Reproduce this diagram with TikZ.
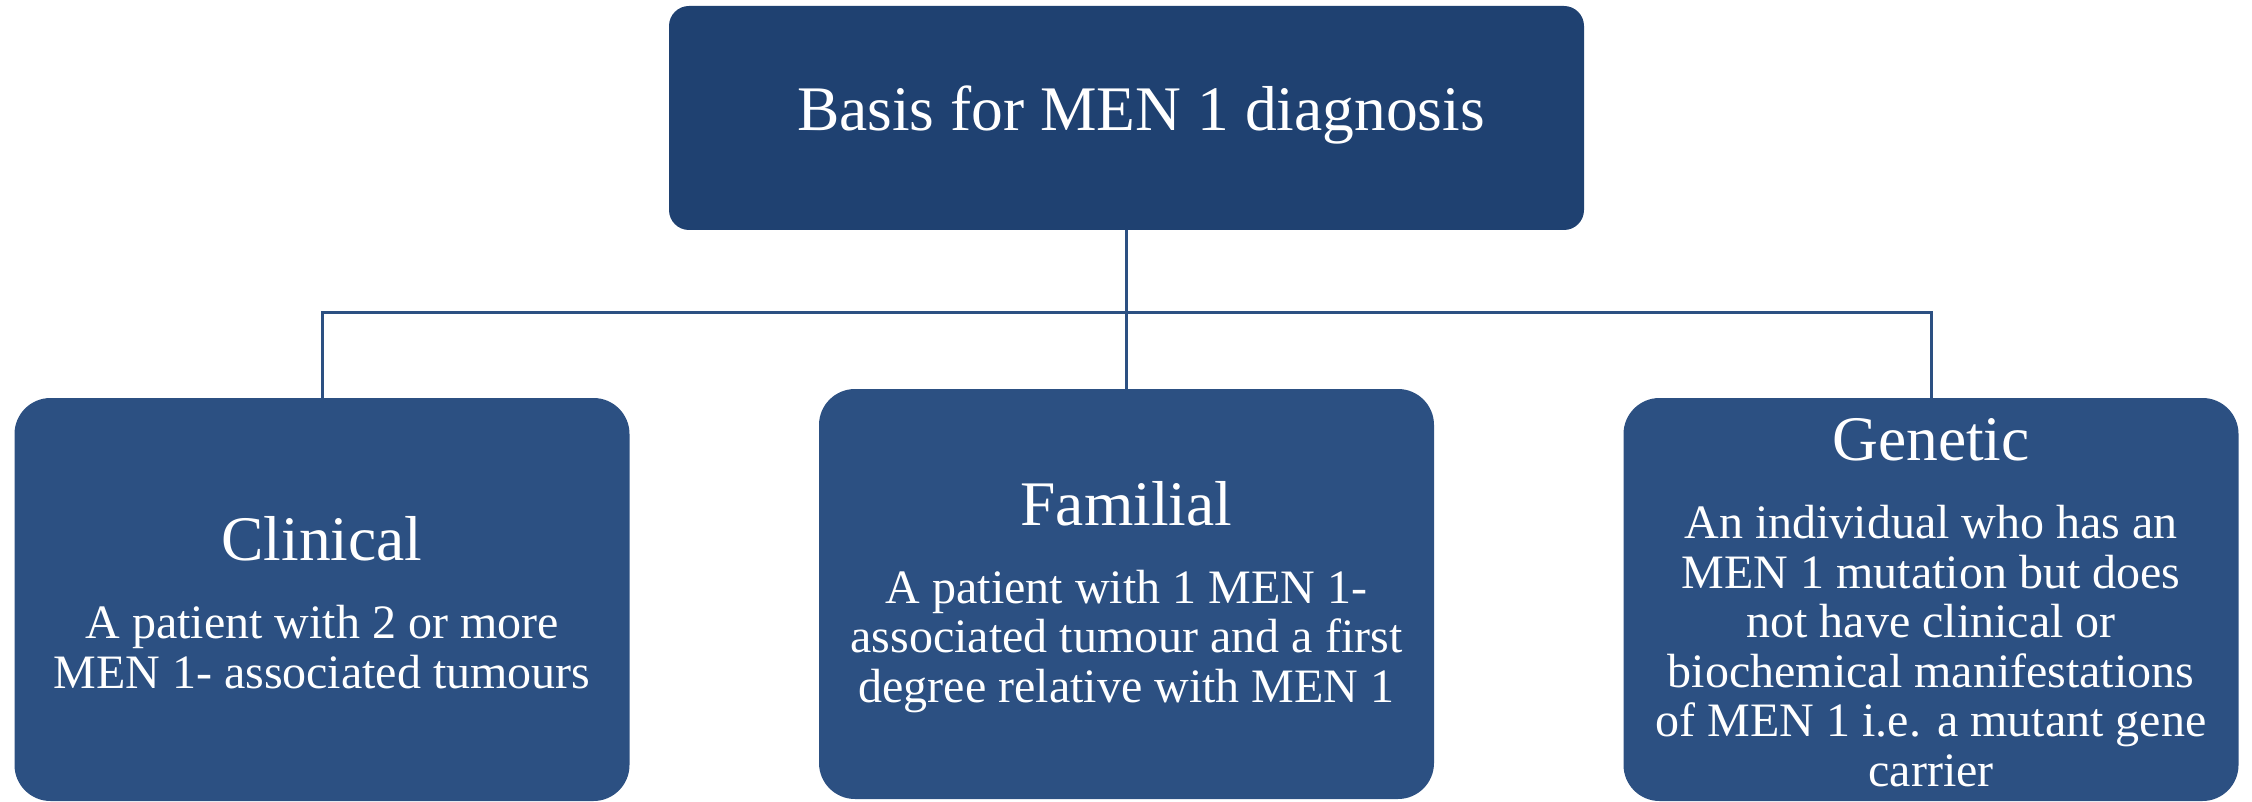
\documentclass[tikz,border=0pt]{standalone}
\usepackage{fontspec}
\setmainfont{Liberation Serif}
\definecolor{topblue}{HTML}{1F4171}
\definecolor{boxblue}{HTML}{2C5082}
\tikzset{
  topbox/.style={rectangle, rounded corners=20pt, fill=topblue, draw=none, inner sep=0pt, minimum width=915pt, minimum height=224pt},
  catbox/.style={rectangle, rounded corners=36pt, fill=boxblue, draw=none, inner sep=0pt, minimum width=615pt},
  headtext/.style={text=white, inner sep=0pt, anchor=base, font=\fontsize{63.5}{70}\selectfont},
  bodytext/.style={text=white, inner sep=0pt, anchor=base, align=center, font=\fontsize{48}{49.5}\selectfont},
  link/.style={draw=boxblue, line width=3pt}
}
\begin{document}
\begin{tikzpicture}[x=1pt,y=-1pt]
\useasboundingbox (0,0) rectangle (2252,802);
\node[topbox] (top) at (1126.5,118) {};
\node[catbox, minimum height=403pt] (left) at (322,599.5) {};
\node[catbox, minimum height=410pt] (mid) at (1126.5,594) {};
\node[catbox, minimum height=403pt] (right) at (1931,599.5) {};
\coordinate (bus) at (1126.5,313);
\draw[link] (top.south) -- (mid.north);
\draw[link] (left.north) |- (bus) -| (right.north);
\node[headtext] (toptext) at (1141,131) {Basis for MEN 1 diagnosis};
\node[headtext] (lefthead) at (322,560) {Clinical};
\node[bodytext] (leftbody) at (322,688) {A patient with 2 or more\\MEN 1- associated tumours};
\node[headtext] (midhead) at (1126.5,525) {Familial};
\node[bodytext] (midbody) at (1126.5,702) {A patient with 1 MEN 1-\\associated tumour and a first\\degree relative with MEN 1};
\node[headtext] (righthead) at (1931,460) {Genetic};
\node[bodytext] (rightbody) at (1931,786) {An individual who has an\\MEN 1 mutation but does\\not have clinical or\\biochemical manifestations\\of MEN 1 i.e. a mutant gene\\carrier};
\end{tikzpicture}
\end{document}
